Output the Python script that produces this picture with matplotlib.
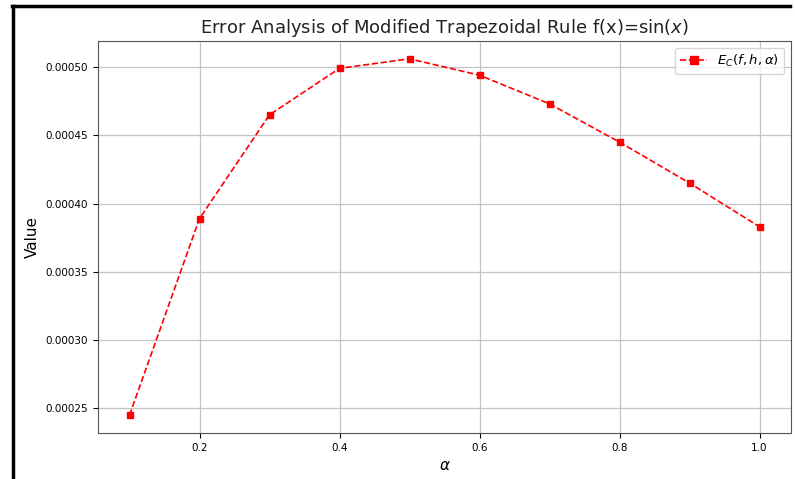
import matplotlib.pyplot as plt
import numpy as np

# step fraction alpha and the composite error E_C(f, h, alpha) for f(x)=sin(x)
alpha = [0.1, 0.2, 0.3, 0.4, 0.5, 0.6, 0.7, 0.8, 0.9, 1.0]
error_c = [0.000245, 0.000389, 0.000465, 0.000499, 0.000506,
           0.000494, 0.000473, 0.000445, 0.000415, 0.000383]

fig = plt.figure(figsize=(7.95, 4.79), dpi=100)
ax = fig.add_axes([98 / 795, 1 - 433 / 479, (791 - 98) / 795, (433 - 41) / 479])

ax.plot(alpha, error_c, color='red', linestyle='--', marker='s',
        markersize=5, linewidth=1.2, label=r'$E_C(f,h,\alpha)$')

ax.set_title('Error Analysis of Modified Trapezoidal Rule f(x)=sin($x$)',
             fontsize=13, color='#222222')
ax.set_xlabel(r'$\alpha$', fontsize=11)
ax.set_ylabel('Value', fontsize=11)
ax.tick_params(labelsize=7.5)
ax.grid(True, color='#c4c4c4', linewidth=0.9)
for s in ax.spines.values():
    s.set_color('#555555')
ax.legend(loc='upper right', fontsize=9.5, markerscale=1.2)

# frame lines along the top and left edge of the figure
fig.add_artist(plt.Line2D([12 / 795, 790 / 795], [1 - 6 / 479, 1 - 6 / 479],
                          transform=fig.transFigure, color='black', linewidth=2.5))
fig.add_artist(plt.Line2D([12.5 / 795, 12.5 / 795], [0, 1 - 6 / 479],
                          transform=fig.transFigure, color='black', linewidth=2.5))

fig.savefig('out.png', dpi=100)
